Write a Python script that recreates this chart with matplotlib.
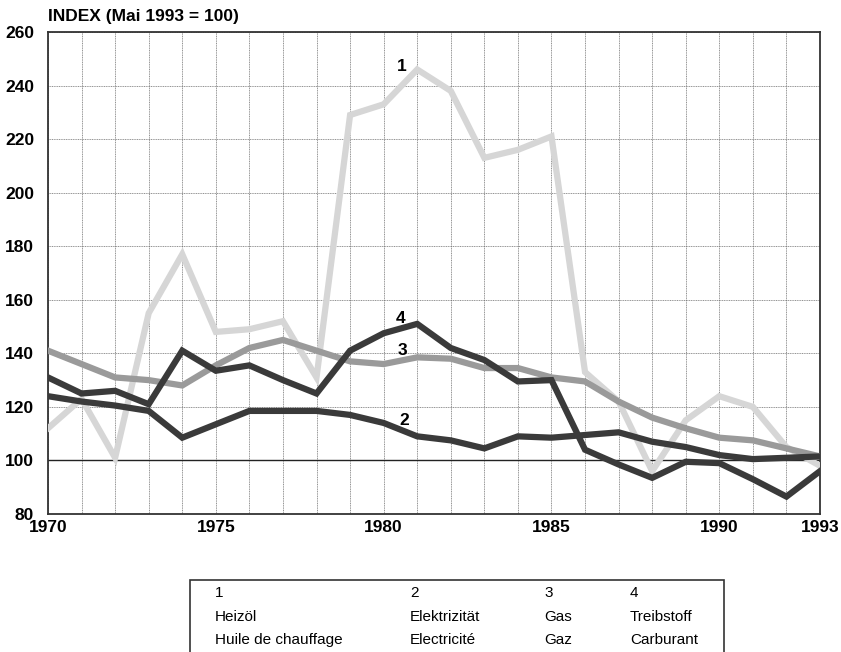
import matplotlib.pyplot as plt
from matplotlib.patches import Rectangle

years = list(range(1970, 1994))

# 1 Heizoel
heizoel = [112, 123, 101, 155, 177, 148, 149, 152, 131, 229, 233, 246,
           238, 213, 216, 221, 133, 122, 96, 115, 124, 120, 105, 98]
# 2 Elektrizitaet
elektr = [124, 122, 120.5, 118.5, 108.5, 113.5, 118.5, 118.5, 118.5, 117, 114, 109,
          107.5, 104.5, 109, 108.5, 109.5, 110.5, 107, 105, 102, 100.5, 101, 101.5]
# 3 Gas
gas = [141, 136, 131, 130, 128, 135.5, 142, 145, 141, 137, 136, 138.5,
       138, 134.5, 134.5, 131, 129.5, 122, 116, 112, 108.5, 107.5, 104.5, 101.5]
# 4 Treibstoff
treib = [131, 125, 126, 121, 141, 133.5, 135.5, 130, 125, 141, 147.5, 151,
         142, 137.5, 129.5, 130, 104, 98.5, 93.5, 99.5, 99, 93, 86.5, 96]

yticks = [80, 100, 120, 140, 160, 180, 200, 220, 240, 260]
xlabels = [1970, 1975, 1980, 1985, 1990, 1993]

legend_cols = [["1", "Heizöl", "Huile de chauffage"],
               ["2", "Elektrizität", "Electricité"],
               ["3", "Gas", "Gaz"],
               ["4", "Treibstoff", "Carburant"]]

plt.rcParams['font.family'] = ['Liberation Sans', 'DejaVu Sans']

fig = plt.figure(figsize=(8.41, 6.52), dpi=100)
ax = fig.add_axes([48/841, 1-514/652, 772/841, 482/652])

ax.set_xlim(1970, 1993)
ax.set_ylim(80, 260)
ax.set_xticks(years, minor=True)
ax.set_xticks(xlabels)
ax.set_yticks(yticks)
ax.grid(True, which='both', color='#666666', linestyle=(0, (1.5, 1)), linewidth=0.5)
ax.tick_params(which='both', length=0)
ax.tick_params(axis='y', pad=10, labelsize=12.5)
ax.tick_params(axis='x', pad=4, labelsize=12.5)
for lab in ax.get_xticklabels() + ax.get_yticklabels():
    lab.set_fontweight('bold')
for s in ax.spines.values():
    s.set_linewidth(1.3)
    s.set_color('#333333')

ax.axhline(100, color='#222222', lw=1.0, zorder=2)

ax.plot(years, heizoel, color='#d6d6d6', lw=4.5, zorder=3, solid_joinstyle='miter')
ax.plot(years, gas, color='#9a9a9a', lw=4.5, zorder=4, solid_joinstyle='miter')
ax.plot(years, elektr, color='#3a3a3a', lw=4.5, zorder=5, solid_joinstyle='miter')
ax.plot(years, treib, color='#3a3a3a', lw=4.5, zorder=5, solid_joinstyle='miter')

for lab, (x, y) in zip(["1", "2", "3", "4"], [(1980.55, 247), (1980.6, 115), (1980.55, 141), (1980.5, 153)]):
    ax.text(x, y, lab, fontsize=12.5, fontweight='bold', ha='center', va='center', zorder=6)

fig.text(48/841, 1-17/652, "INDEX (Mai 1993 = 100)", fontsize=12.5, fontweight='bold',
         ha='left', va='center')

# legend table
fig.patches.append(Rectangle((190/841, -0.05), 534/841, 1-580/652+0.05,
                             transform=fig.transFigure, fill=False,
                             edgecolor='#333333', lw=1.2))
col_x = [215, 410, 544, 630]
row_y = [593, 617, 640]
for cx, col in zip(col_x, legend_cols):
    for ry, txt in zip(row_y, col):
        fig.text(cx/841, 1-ry/652, txt, fontsize=11, ha='left', va='center')

fig.savefig("out.png", dpi=100)
